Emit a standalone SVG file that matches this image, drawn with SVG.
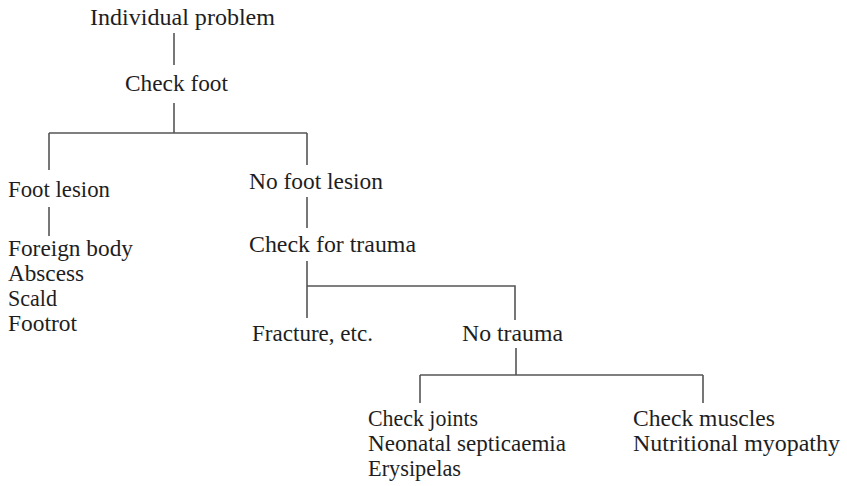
<svg xmlns="http://www.w3.org/2000/svg" width="847" height="486" viewBox="0 0 847 486">
  <style>
    .lbl { font-family: "Liberation Serif", "DejaVu Serif", serif; font-size: 23px; fill: #1e1e1e; }
    .conn { stroke: #555; stroke-width: 1.6; fill: none; }
  </style>
  <rect width="847" height="486" fill="#fff"/>

  <!-- tree connectors -->
  <g id="connectors" class="conn">
    <path d="M174 33 V65"/>
    <path d="M174 103 V133"/>
    <path d="M49 133 H307 M49 133 V170 M307 133 V165"/>
    <path d="M49 207 V236"/>
    <path d="M307 197 V228"/>
    <path d="M307 261 V318 M307 286 H515 V320"/>
    <path d="M516 348 V375"/>
    <path d="M420 375 H703 M420 375 V403 M703 375 V403"/>
  </g>

  <g id="individual-problem"><text class="lbl" x="90" y="25" textLength="185" lengthAdjust="spacingAndGlyphs">Individual problem</text></g>
  <g id="check-foot"><text class="lbl" x="125" y="91" textLength="103" lengthAdjust="spacingAndGlyphs">Check foot</text></g>
  <g id="foot-lesion"><text class="lbl" x="8" y="197" textLength="102" lengthAdjust="spacingAndGlyphs">Foot lesion</text></g>
  <g id="foot-lesion-causes">
    <text class="lbl" x="8" y="256" textLength="125" lengthAdjust="spacingAndGlyphs">Foreign body</text>
    <text class="lbl" x="8" y="281" textLength="76" lengthAdjust="spacingAndGlyphs">Abscess</text>
    <text class="lbl" x="8" y="306" textLength="49" lengthAdjust="spacingAndGlyphs">Scald</text>
    <text class="lbl" x="8" y="331" textLength="69" lengthAdjust="spacingAndGlyphs">Footrot</text>
  </g>
  <g id="no-foot-lesion"><text class="lbl" x="249" y="189" textLength="134" lengthAdjust="spacingAndGlyphs">No foot lesion</text></g>
  <g id="check-trauma"><text class="lbl" x="249" y="252" textLength="167" lengthAdjust="spacingAndGlyphs">Check for trauma</text></g>
  <g id="fracture"><text class="lbl" x="252" y="341" textLength="121" lengthAdjust="spacingAndGlyphs">Fracture, etc.</text></g>
  <g id="no-trauma"><text class="lbl" x="462" y="341" textLength="101" lengthAdjust="spacingAndGlyphs">No trauma</text></g>
  <g id="check-joints">
    <text class="lbl" x="368" y="426" textLength="110" lengthAdjust="spacingAndGlyphs">Check joints</text>
    <text class="lbl" x="368" y="451" textLength="198" lengthAdjust="spacingAndGlyphs">Neonatal septicaemia</text>
    <text class="lbl" x="368" y="476" textLength="93" lengthAdjust="spacingAndGlyphs">Erysipelas</text>
  </g>
  <g id="check-muscles">
    <text class="lbl" x="633" y="426" textLength="142" lengthAdjust="spacingAndGlyphs">Check muscles</text>
    <text class="lbl" x="633" y="451" textLength="207" lengthAdjust="spacingAndGlyphs">Nutritional myopathy</text>
  </g>
</svg>
